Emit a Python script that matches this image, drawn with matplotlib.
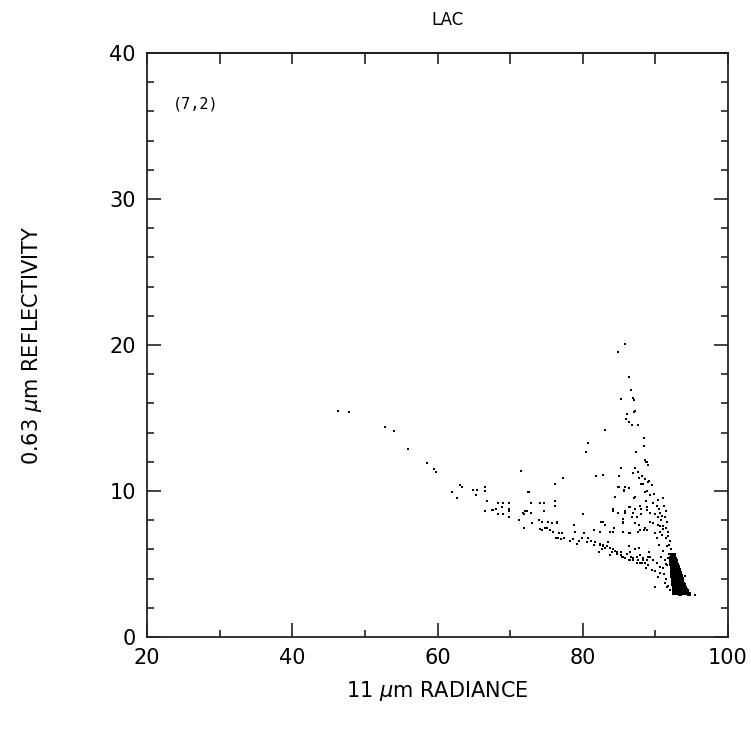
import matplotlib
matplotlib.use("Agg")
import matplotlib.pyplot as plt
from matplotlib.ticker import MultipleLocator

title = "LAC"
panel_label = "(7,2)"
xlabel = "11 $\\mu$m RADIANCE"
ylabel = "0.63 $\\mu$m REFLECTIVITY"

# sparse points (radiance, reflectivity)
scatter_x = [
    46.3, 47.8, 52.8, 54.0, 55.9, 58.6, 59.5, 59.8, 63.1, 63.4, 62.0, 62.7, 64.9, 65.5, 66.6, 66.6,
    65.3, 66.8, 66.6, 67.5, 67.7, 68.1, 68.3, 69.0, 69.9, 68.9, 68.3, 69.0, 69.9, 69.9, 69.9, 71.2,
    71.9, 71.5, 72.5, 72.2, 71.9,
    85.8, 84.9, 86.3, 86.7, 85.2, 86.9, 87.1, 87.2, 87.1, 86.1, 86.0, 86.3, 86.8, 87.6, 83.1, 88.5,
    80.7, 88.5, 80.5, 87.4, 88.6, 88.7, 88.9, 89.0, 85.2, 87.2, 87.6, 86.9, 81.8, 82.8, 85.0, 88.2,
    77.3, 87.8, 88.6, 89.1, 76.2, 88.0, 85.0, 85.8, 85.7, 88.9, 72.6, 84.5, 87.1, 76.2, 72.9, 74.1,
    74.7, 88.7, 76.2, 86.3, 84.2, 84.9, 87.2, 88.0, 72.1, 72.3, 71.8, 74.7, 72.9, 85.8, 88.9, 80.1,
    88.0, 86.8, 87.5, 82.5, 85.6, 85.6, 74.0, 74.4, 75.2, 75.8, 76.5, 76.5, 73.0, 87.2, 87.8, 83.1,
    74.8, 75.1, 71.9, 84.3, 78.8, 88.6, 88.5, 74.1, 74.4, 75.5, 75.9, 79.0, 81.6, 82.4, 83.8, 76.7,
    77.2, 85.6, 86.4, 87.6, 80.2, 80.7, 79.9, 76.3, 76.6, 77.0, 77.4, 78.3, 78.7, 79.5, 79.2, 80.6,
    81.2, 81.7, 81.6, 82.4, 82.8, 83.1, 82.7, 83.5, 83.4, 84.5, 84.7, 85.2, 84.7, 85.4, 84.0, 83.8,
    86.3, 86.5, 87.2, 87.8, 85.8, 86.3, 86.9, 86.7, 87.6, 88.2, 88.6, 89.0, 88.7, 87.5, 87.9, 88.3,
    89.1, 89.0, 88.9, 82.3,
    84.9, 85.7, 86.3, 88.3, 89.0, 89.6, 84.5, 87.2, 88.6, 89.3, 86.5, 87.9, 88.9, 89.7, 90.2, 84.2,
    85.8, 86.9, 89.3, 90.0, 90.4, 90.7, 82.8, 85.6, 87.2, 89.3, 89.7, 90.4, 88.9, 90.0, 90.7, 90.9,
    84.2, 86.5, 87.9, 82.4, 82.8, 83.4, 83.8, 84.2, 84.7, 85.2, 85.6, 86.1, 86.5, 86.9, 87.5, 87.9,
    88.3, 89.3, 89.7, 90.2, 90.7, 91.1, 91.6, 92.0, 90.4, 90.0, 91.6, 92.0, 94.1, 95.5,
    88.7, 89.5, 90.0, 90.6, 91.2, 91.5, 91.3, 91.8,
    91.0, 91.2, 91.4, 91.3, 91.6, 91.5, 91.8, 91.7, 92.0, 91.9, 92.1, 91.6, 91.4, 91.1, 90.8, 91.9,
    91.7, 91.5, 91.3,
    89.8, 90.3, 90.5, 90.9, 91.0, 90.6, 90.2, 90.5, 91.0, 90.8,
]
scatter_y = [
    15.5, 15.4, 14.4, 14.1, 12.9, 11.9, 11.5, 11.3, 10.4, 10.3, 9.9, 9.5, 10.1, 10.1, 10.3, 10.0,
    9.7, 9.3, 8.6, 8.7, 8.7, 8.8, 9.2, 9.2, 9.2, 8.9, 8.4, 8.4, 8.6, 8.8, 8.2, 8.0,
    7.5, 11.4, 9.9, 8.6, 8.4,
    20.1, 19.5, 17.8, 16.9, 16.3, 16.4, 16.2, 15.5, 15.4, 15.3, 14.9, 14.7, 14.5, 14.5, 14.2, 13.6,
    13.3, 13.1, 12.7, 12.7, 12.1, 12.0, 12.0, 11.8, 11.6, 11.6, 11.3, 11.2, 11.0, 11.1, 11.0, 11.0,
    10.9, 10.9, 10.8, 10.7, 10.5, 10.5, 10.3, 10.3, 10.0, 10.0, 9.9, 9.6, 9.5, 9.3, 9.2, 9.2,
    9.2, 9.3, 9.0, 8.9, 8.8, 8.5, 8.8, 8.8, 8.6, 8.6, 8.5, 8.6, 8.5, 8.5, 8.7, 8.4,
    8.4, 8.2, 8.2, 7.9, 8.1, 7.8, 8.0, 7.9, 7.9, 7.8, 7.9, 7.8, 7.8, 7.8, 7.7, 7.7,
    7.5, 7.5, 7.5, 7.5, 7.7, 7.5, 7.3, 7.4, 7.3, 7.3, 7.2, 7.2, 7.3, 7.2, 7.2, 7.1,
    7.1, 7.2, 7.1, 7.2, 7.1, 6.8, 6.8, 6.8, 6.8, 6.7, 6.8, 6.6, 6.7, 6.6, 6.4, 6.5,
    6.6, 6.5, 6.3, 6.3, 6.2, 6.1, 6.0, 6.5, 6.2, 5.9, 5.8, 5.8, 5.7, 5.5, 5.8, 5.6,
    6.2, 5.8, 6.0, 6.1, 5.4, 5.3, 5.3, 5.5, 5.3, 5.1, 5.1, 4.9, 4.7, 5.5, 5.6, 5.4,
    5.8, 5.5, 5.3, 5.8,
    10.3, 10.1, 10.2, 10.5, 10.6, 10.4, 9.6, 9.6, 9.9, 9.7, 8.9, 9.0, 8.9, 9.2, 9.0, 8.6,
    8.6, 8.5, 8.5, 8.4, 8.2, 8.5, 7.9, 7.9, 7.8, 7.9, 7.8, 7.7, 7.3, 7.1, 7.2, 7.0,
    7.2, 7.1, 7.3, 6.4, 6.3, 6.2, 6.1, 6.0, 5.8, 5.6, 5.5, 5.7, 5.3, 5.4, 5.1, 5.1,
    5.3, 5.5, 5.3, 5.1, 4.8, 4.7, 4.9, 5.1, 4.1, 3.4, 3.4, 3.2, 4.2, 2.9,
    4.7, 4.6, 4.5, 4.4, 4.3, 4.0, 3.7, 3.5,
    9.5, 9.0, 8.6, 8.2, 7.9, 7.5, 7.2, 6.9, 6.6, 6.3, 6.0, 6.2, 6.8, 7.4, 8.0, 5.7,
    5.4, 5.0, 5.3,
    9.8, 9.4, 8.8, 8.3, 7.6, 7.6, 6.8, 6.3, 5.9, 5.5,
]

# dense core of clear-sky pixels
core_x = [
    92.3, 92.5,
    92.2, 92.4, 92.65,
    92.15, 92.4, 92.6, 92.85,
    92.2, 92.45, 92.6, 92.8, 93.0,
    92.25, 92.4, 92.65, 92.9, 93.1,
    92.3, 92.5, 92.75, 93.0, 93.2,
    92.3, 92.55, 92.7, 92.95, 93.2, 93.4,
    92.35, 92.5, 92.8, 93.05, 93.3, 93.5,
    92.4, 92.6, 92.85, 93.1, 93.3, 93.6,
    92.4, 92.65, 92.9, 93.15, 93.45, 93.7,
    92.45, 92.7, 92.95, 93.2, 93.5, 93.8, 94.0,
    92.5, 92.75, 93.0, 93.25, 93.55, 93.8, 94.1,
    92.5, 92.8, 93.05, 93.3, 93.6, 93.9, 94.2, 94.4,
    92.6, 92.85, 93.1, 93.4, 93.7, 94.0, 94.3, 94.6,
]
core_y = [
    5.6, 5.65,
    5.4, 5.45, 5.35,
    5.2, 5.25, 5.15, 5.2,
    5.0, 5.05, 4.95, 5.0, 4.95,
    4.8, 4.85, 4.75, 4.8, 4.8,
    4.6, 4.65, 4.6, 4.55, 4.6,
    4.4, 4.45, 4.35, 4.4, 4.4, 4.35,
    4.2, 4.25, 4.2, 4.15, 4.2, 4.2,
    4.0, 4.05, 3.95, 4.0, 4.05, 4.0,
    3.8, 3.85, 3.8, 3.75, 3.8, 3.8,
    3.6, 3.65, 3.6, 3.55, 3.6, 3.6, 3.55,
    3.4, 3.45, 3.4, 3.35, 3.4, 3.4, 3.35,
    3.2, 3.25, 3.2, 3.15, 3.2, 3.2, 3.2, 3.15,
    3.0, 3.05, 3.0, 2.95, 3.0, 3.0, 3.0, 2.95,
]

x_major = [20, 40, 60, 80, 100]
y_major = [0, 10, 20, 30, 40]

fig = plt.figure(figsize=(7.51, 7.29), dpi=100)
ax = fig.add_axes([147 / 751, 1 - 637 / 729, (728 - 147) / 751, (637 - 53) / 729])

ax.scatter(scatter_x, scatter_y, s=2.5, marker="s", c="black", linewidths=0)
ax.scatter(core_x, core_y, s=9, marker="s", c="black", linewidths=0)

ax.set_xlim(20, 100)
ax.set_ylim(0, 40)
ax.set_xticks(x_major)
ax.set_yticks(y_major)
ax.xaxis.set_minor_locator(MultipleLocator(10))
ax.yaxis.set_minor_locator(MultipleLocator(2))
ax.tick_params(which="both", direction="in", width=1.2, colors="#222222",
               labelcolor="black", labelsize=15, top=False, right=True)
ax.tick_params(which="major", length=10, pad=8)
ax.tick_params(which="minor", length=5)

top = ax.secondary_xaxis("top")
top.set_xticks([20, 30, 40, 50, 60, 70, 80, 90, 100])
top.tick_params(direction="in", length=8, width=1.2, labeltop=False, colors="#222222")
top.spines["top"].set_linewidth(1.3)

for sp in ax.spines.values():
    sp.set_linewidth(1.3)
    sp.set_color("#222222")

ax.set_xlabel(xlabel, fontsize=15, labelpad=8)
ax.set_ylabel(ylabel, fontsize=15, labelpad=47)
fig.text(447 / 751, 1 - 20 / 729, title, fontsize=12, ha="center", va="center")
ax.text(23.6, 36.5, panel_label, fontsize=11, family="DejaVu Sans Mono",
        ha="left", va="center")

fig.savefig("out.png", dpi=100)
